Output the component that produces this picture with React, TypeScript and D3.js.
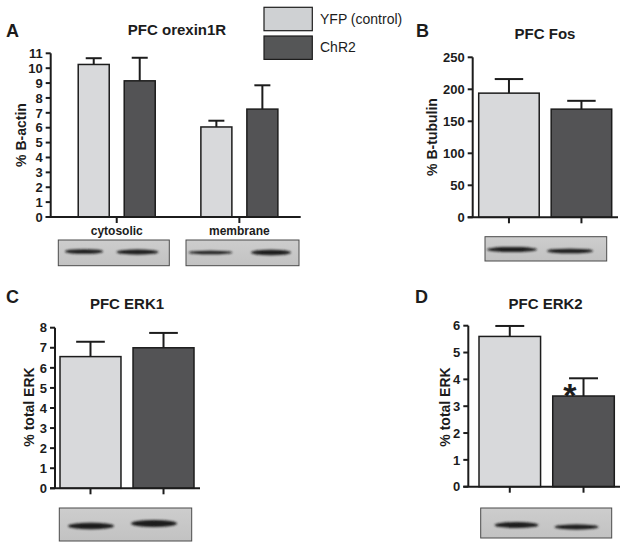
import React from "react";
import * as d3 from "d3";

const FONT = "'Liberation Sans', Arial, Helvetica, sans-serif";
const LIGHT = "#d8d9db";
const DARK = "#535355";
const INK = "#1c1c1c";

// ---------- data ----------
const seriesKeys = ["YFP (control)", "ChR2"];
const seriesFill = [LIGHT, DARK];

const orexinGroups = ["cytosolic", "membrane"];
const orexinYfp = [10.25, 6.05];
const orexinYfpSem = [0.42, 0.42];
const orexinChr2 = [9.15, 7.25];
const orexinChr2Sem = [1.55, 1.6];
const orexinTicks = [0, 1, 2, 3, 4, 5, 6, 7, 8, 9, 10, 11];

const fosValues = [194, 169];
const fosSem = [22, 13];
const fosTicks = [0, 50, 100, 150, 200, 250];

const erk1Values = [6.56, 7.0];
const erk1Sem = [0.74, 0.74];
const erk1Ticks = [0, 1, 2, 3, 4, 5, 6, 7, 8];

const erk2Values = [5.6, 3.38];
const erk2Sem = [0.39, 0.66];
const erk2Ticks = [0, 1, 2, 3, 4, 5, 6];

// ---------- blot decorations (western blot images) ----------
type Band = { cx: number; cy: number; rx: number; ry: number };
type BlotSpec = { x: number; y: number; w: number; h: number; bands: Band[] };

const blots: BlotSpec[] = [
  { x: 58.3, y: 240, w: 111, h: 25.7, bands: [{ cx: 84, cy: 251.5, rx: 19, ry: 2.3 }, { cx: 137.5, cy: 252, rx: 21, ry: 2.5 }] },
  { x: 186, y: 240, w: 113, h: 25.7, bands: [{ cx: 210.5, cy: 252.5, rx: 22, ry: 1.8 }, { cx: 271, cy: 252.5, rx: 20, ry: 2.8 }] },
  { x: 485, y: 236.7, w: 121.7, h: 24.3, bands: [{ cx: 512, cy: 249.5, rx: 25, ry: 2.6 }, { cx: 570, cy: 251, rx: 23, ry: 2.3 }] },
  { x: 59.3, y: 508, w: 132.4, h: 33, bands: [{ cx: 91, cy: 526, rx: 23, ry: 3.3 }, { cx: 154, cy: 523.5, rx: 23, ry: 3.5 }] },
  { x: 480.7, y: 508, w: 131, h: 30, bands: [{ cx: 516.5, cy: 525, rx: 22, ry: 3 }, { cx: 576.5, cy: 527, rx: 22, ry: 2.4 }] },
];

function Blot({ b }: { b: BlotSpec }) {
  return (
    <g>
      <rect x={b.x} y={b.y} width={b.w} height={b.h} fill="url(#blotBg)" stroke="#4a4a4a" strokeWidth={1} />
      {b.bands.map((d, i) => (
        <ellipse key={i} cx={d.cx} cy={d.cy} rx={d.rx} ry={d.ry} fill="#1a1a1a" filter="url(#bandBlur)" />
      ))}
    </g>
  );
}

// ---------- shared axis pieces ----------
function YAxis({ x, y, ticks }: { x: number; y: d3.ScaleLinear<number, number>; ticks: number[] }) {
  const [r0, r1] = y.range();
  return (
    <g>
      <line x1={x} x2={x} y1={r0} y2={r1} stroke={INK} strokeWidth={2} />
      {ticks.map((t) => (
        <g key={t}>
          <line x1={x - 5} x2={x} y1={y(t)} y2={y(t)} stroke={INK} strokeWidth={2} />
          <text x={x - 8} y={y(t)} dy="0.36em" textAnchor="end" fontFamily={FONT} fontWeight="bold" fontSize={13} fill={INK}>
            {t}
          </text>
        </g>
      ))}
    </g>
  );
}

function ErrorBar({ cx, yBase, yTop, cap }: { cx: number; yBase: number; yTop: number; cap: number }) {
  return (
    <g stroke={INK} strokeWidth={2}>
      <line x1={cx} x2={cx} y1={yBase} y2={yTop} />
      <line x1={cx - cap / 2} x2={cx + cap / 2} y1={yTop} y2={yTop} />
    </g>
  );
}

function Labels({ letter, lx, ly, title, tx, ty, yLabel, yx, yy }: any) {
  return (
    <g fontFamily={FONT} fill={INK}>
      <text x={lx} y={ly} fontSize={18} fontWeight="bold">{letter}</text>
      <text x={tx} y={ty} fontSize={15} fontWeight="bold" textAnchor="middle">{title}</text>
      <text transform={`translate(${yx},${yy}) rotate(-90)`} fontSize={14} fontWeight="bold" textAnchor="middle">{yLabel}</text>
    </g>
  );
}

// ---------- panel A (grouped) ----------
function PanelA() {
  const y = d3.scaleLinear().domain([0, 11]).range([217, 53.3]);
  const outer = d3.scaleBand<string>().domain(orexinGroups).range([55.4, 300.7]);
  const inner = d3.scaleBand<string>().domain(seriesKeys).range([-38.5, 38.5]).paddingInner(0.326);
  const axisX = 50.7;
  const vals = [orexinYfp, orexinChr2];
  const sems = [orexinYfpSem, orexinChr2Sem];
  return (
    <g>
      <Labels letter="A" lx={6} ly={37} title="PFC orexin1R" tx={177} ty={34.5} yLabel="% B-actin" yx={26} yy={135} />
      {orexinGroups.map((g, gi) => {
        const c = (outer(g) as number) + outer.bandwidth() / 2;
        return (
          <g key={g}>
            {seriesKeys.map((s, si) => {
              const x0 = c + (inner(s) as number);
              const bw = inner.bandwidth();
              const v = vals[si][gi];
              return (
                <g key={s}>
                  <ErrorBar cx={x0 + bw / 2} yBase={y(v)} yTop={y(v + sems[si][gi])} cap={16} />
                  <rect x={x0} y={y(v)} width={bw} height={y(0) - y(v)} fill={seriesFill[si]} stroke={INK} strokeWidth={1.5} />
                </g>
              );
            })}
            <line x1={c} x2={c} y1={y(0)} y2={y(0) + 6} stroke={INK} strokeWidth={2} />
            <text x={c} y={235} textAnchor="middle" fontFamily={FONT} fontWeight="bold" fontSize={12} fill={INK}>
              {g}
            </text>
          </g>
        );
      })}
      <line x1={axisX - 5} x2={300.7} y1={y(0)} y2={y(0)} stroke={INK} strokeWidth={2} />
      <YAxis x={axisX} y={y} ticks={orexinTicks} />
    </g>
  );
}

// ---------- simple two-bar panels ----------
type SimpleLayout = {
  axisX: number; xEnd: number; y0: number; yTop: number; barStart: number; barSpan: number;
  letter: string; lx: number; ly: number; title: string; tx: number; ty: number; yLabel: string; yx: number; yy: number;
};

function SimplePanel({ values, sems, ticks, L, star }: { values: number[]; sems: number[]; ticks: number[]; L: SimpleLayout; star?: boolean }) {
  const y = d3.scaleLinear().domain([0, ticks[ticks.length - 1]]).range([L.y0, L.yTop]);
  const x = d3.scaleBand<string>().domain(seriesKeys).range([L.barStart, L.barStart + L.barSpan]).paddingInner(0.165);
  const bw = x.bandwidth();
  return (
    <g>
      <Labels letter={L.letter} lx={L.lx} ly={L.ly} title={L.title} tx={L.tx} ty={L.ty} yLabel={L.yLabel} yx={L.yx} yy={L.yy} />
      {seriesKeys.map((s, i) => {
        const x0 = x(s) as number;
        const c = x0 + bw / 2;
        return (
          <g key={s}>
            <ErrorBar cx={c} yBase={y(values[i])} yTop={y(values[i] + sems[i])} cap={bw * 0.47} />
            <rect x={x0} y={y(values[i])} width={bw} height={y(0) - y(values[i])} fill={seriesFill[i]} stroke={INK} strokeWidth={1.5} />
            <line x1={c} x2={c} y1={y(0)} y2={y(0) + 6} stroke={INK} strokeWidth={2} />
            {star && i === 1 ? (
              <text x={c - 13.6} y={y(values[i]) + 11} textAnchor="middle" fontFamily={FONT} fontWeight="bold" fontSize={34} fill={INK}>
                *
              </text>
            ) : null}
          </g>
        );
      })}
      <line x1={L.axisX - 5} x2={L.xEnd} y1={y(0)} y2={y(0)} stroke={INK} strokeWidth={2} />
      <YAxis x={L.axisX} y={y} ticks={ticks} />
    </g>
  );
}

const layoutB: SimpleLayout = {
  axisX: 472.7, xEnd: 618, y0: 217.3, yTop: 57.3, barStart: 478.7, barSpan: 133,
  letter: "B", lx: 416, ly: 37, title: "PFC Fos", tx: 545, ty: 39, yLabel: "% B-tubulin", yx: 436.5, yy: 137,
};
const layoutC: SimpleLayout = {
  axisX: 55, xEnd: 200, y0: 488.3, yTop: 327.7, barStart: 60, barSpan: 134,
  letter: "C", lx: 6, ly: 303, title: "PFC ERK1", tx: 127, ty: 308.5, yLabel: "% total ERK", yx: 34, yy: 407,
};
const layoutD: SimpleLayout = {
  axisX: 468.3, xEnd: 620, y0: 486.7, yTop: 325.7, barStart: 479, barSpan: 135.3,
  letter: "D", lx: 415, ly: 303, title: "PFC ERK2", tx: 545.6, ty: 309, yLabel: "% total ERK", yx: 450, yy: 407,
};

function Legend() {
  return (
    <g fontFamily={FONT} fontSize={14} fill={INK}>
      {seriesKeys.map((s, i) => (
        <g key={s}>
          <rect x={264} y={7.3 + i * 28.7} width={48.3} height={23.4} fill={i === 0 ? "#cfd1d3" : "#555657"} stroke={INK} strokeWidth={1.2} />
          <text x={320} y={23.5 + i * 28.5}>{s}</text>
        </g>
      ))}
    </g>
  );
}

export default function App() {
  return (
    <svg width={629} height={549} style={{ position: "absolute", left: 0, top: 0, background: "#fff" }}>
      <defs>
        <filter id="bandBlur" x="-20%" y="-200%" width="140%" height="500%">
          <feGaussianBlur stdDeviation="1.2" />
        </filter>
        <linearGradient id="blotBg" x1="0" y1="0" x2="0" y2="1">
          <stop offset="0" stopColor="#cdcdcd" />
          <stop offset="1" stopColor="#c2c2c2" />
        </linearGradient>
      </defs>
      <rect width={629} height={549} fill="#fff" />
      <PanelA />
      <SimplePanel values={fosValues} sems={fosSem} ticks={fosTicks} L={layoutB} />
      <SimplePanel values={erk1Values} sems={erk1Sem} ticks={erk1Ticks} L={layoutC} />
      <SimplePanel values={erk2Values} sems={erk2Sem} ticks={erk2Ticks} L={layoutD} star />
      <Legend />
      {blots.map((b, i) => (
        <Blot key={i} b={b} />
      ))}
    </svg>
  );
}
